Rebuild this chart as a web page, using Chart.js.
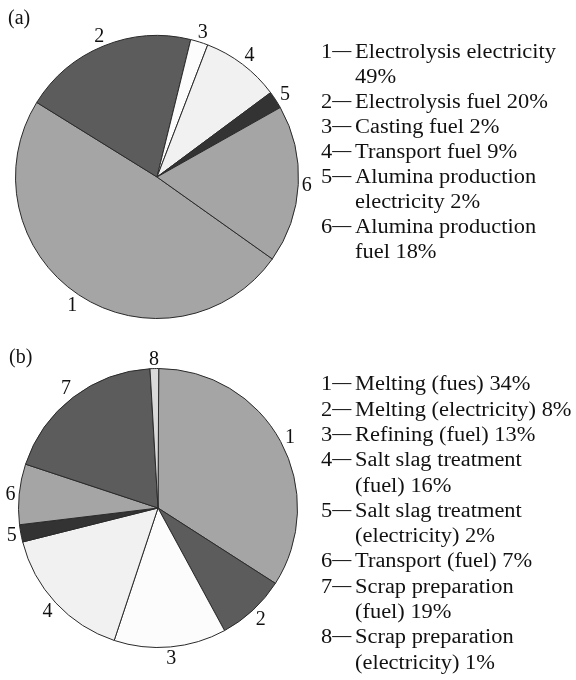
<!DOCTYPE html>
<html>
<head>
<meta charset="utf-8">
<script src="https://cdn.jsdelivr.net/npm/chart.js@4.4.1/dist/chart.umd.min.js"></script>
<style>
  html, body { margin: 0; padding: 0; background: #ffffff; }
  body { width: 576px; height: 680px; position: relative; overflow: hidden; font-family: "Liberation Serif", "DejaVu Serif", serif; color: #111111; }
  canvas { position: absolute; left: 0; }
  #cA { top: 0; }
  #cB { top: 340px; }
  .tag { position: absolute; font-size: 20px; line-height: 25px; }
  .legend { position: absolute; font-size: 20px; white-space: nowrap; transform: scaleX(1.12); transform-origin: 0 0; }
  .item { display: flex; }
  .num { flex: none; width: 30.4px; }
  .dash { display: inline-block; transform: scaleX(0.85); transform-origin: 0 50%; position: relative; top: -1px; }
</style>
</head>
<body>
<canvas id="cA" width="576" height="340"></canvas>
<canvas id="cB" width="576" height="340"></canvas>
<div class="tag" style="left:8px; top:5px;">(a)</div>
<div class="tag" style="left:9px; top:344px;">(b)</div>
<div class="legend" id="legA" style="left:321px; top:39.4px; line-height:25px;"></div>
<div class="legend" id="legB" style="left:321px; top:371.4px; line-height:25.3px;"></div>
<script>
// ---- data ----
const categoriesA = ["Electrolysis electricity", "Electrolysis fuel", "Casting fuel", "Transport fuel", "Alumina production electricity", "Alumina production fuel"];
const valuesA = [49, 20, 2, 9, 2, 18];
const colorsA = ["#a5a5a5", "#5c5c5c", "#fcfcfc", "#f1f1f1", "#333333", "#a5a5a5"];
const wrapA = [2, 0, 0, 0, 2, 2];   // words kept on first legend line (0 = no wrap)

const categoriesB = ["Melting (fues)", "Melting (electricity)", "Refining (fuel)", "Salt slag treatment (fuel)", "Salt slag treatment (electricity)", "Transport (fuel)", "Scrap preparation (fuel)", "Scrap preparation (electricity)"];
const valuesB = [34, 8, 13, 16, 2, 7, 19, 1];
const colorsB = ["#a5a5a5", "#5c5c5c", "#fcfcfc", "#f1f1f1", "#333333", "#a5a5a5", "#5c5c5c", "#d9d9d9"];
const wrapB = [0, 0, 0, 3, 3, 0, 2, 2];

// ---- legends (HTML text) ----
function buildLegend(el, cats, vals, wraps) {
  cats.forEach((c, i) => {
    const words = (c + " " + vals[i] + "%").split(" ");
    const item = document.createElement("div");
    item.className = "item";
    const num = document.createElement("span");
    num.className = "num";
    num.appendChild(document.createTextNode(String(i + 1)));
    const dash = document.createElement("span");
    dash.className = "dash";
    dash.textContent = "\u2014";
    num.appendChild(dash);
    const txt = document.createElement("span");
    if (wraps[i] > 0) {
      txt.appendChild(document.createTextNode(words.slice(0, wraps[i]).join(" ")));
      txt.appendChild(document.createElement("br"));
      txt.appendChild(document.createTextNode(words.slice(wraps[i]).join(" ")));
    } else {
      txt.textContent = words.join(" ");
    }
    item.appendChild(num);
    item.appendChild(txt);
    el.appendChild(item);
  });
}
buildLegend(document.getElementById("legA"), categoriesA, valuesA, wrapA);
buildLegend(document.getElementById("legB"), categoriesB, valuesB, wrapB);

// ---- slice number labels plugin ----
const sliceNumbers = {
  id: "sliceNumbers",
  afterDatasetsDraw(chart, args, opts) {
    const ctx = chart.ctx;
    const meta = chart.getDatasetMeta(0);
    ctx.save();
    ctx.font = '20px "Liberation Serif"';
    ctx.fillStyle = "#111111";
    ctx.textAlign = "center";
    ctx.textBaseline = "middle";
    const gap = opts.gap || 3;
    meta.data.forEach((arc, i) => {
      const p = arc.getProps(["x", "y", "startAngle", "endAngle", "outerRadius"], true);
      const mid = (p.startAngle + p.endAngle) / 2;
      const dx = Math.cos(mid), dy = Math.sin(mid);
      const label = String(i + 1);
      const w = ctx.measureText(label).width, h = 14;
      const off = p.outerRadius + gap + Math.abs(dx) * w / 2 + Math.abs(dy) * h / 2;
      ctx.fillText(label, p.x + dx * off, p.y + dy * off + 1);
    });
    ctx.restore();
  }
};

function makePie(id, cats, vals, colors, rotation, padding) {
  return new Chart(document.getElementById(id), {
    type: "pie",
    data: {
      labels: cats,
      datasets: [{
        data: vals,
        backgroundColor: colors,
        borderColor: "#2a2a2a",
        borderWidth: 1
      }]
    },
    options: {
      responsive: false,
      animation: false,
      rotation: rotation,
      layout: { padding: padding },
      plugins: {
        legend: { display: false },
        tooltip: { enabled: false },
        sliceNumbers: { gap: 3 }
      }
    },
    plugins: [sliceNumbers]
  });
}

makePie("cA", categoriesA, valuesA, colorsA, 125.4, { left: 15, right: 277, top: 35, bottom: 21 });
makePie("cB", categoriesB, valuesB, colorsB, 0.3, { left: 18, right: 278, top: 28, bottom: 32 });
</script>
</body>
</html>
